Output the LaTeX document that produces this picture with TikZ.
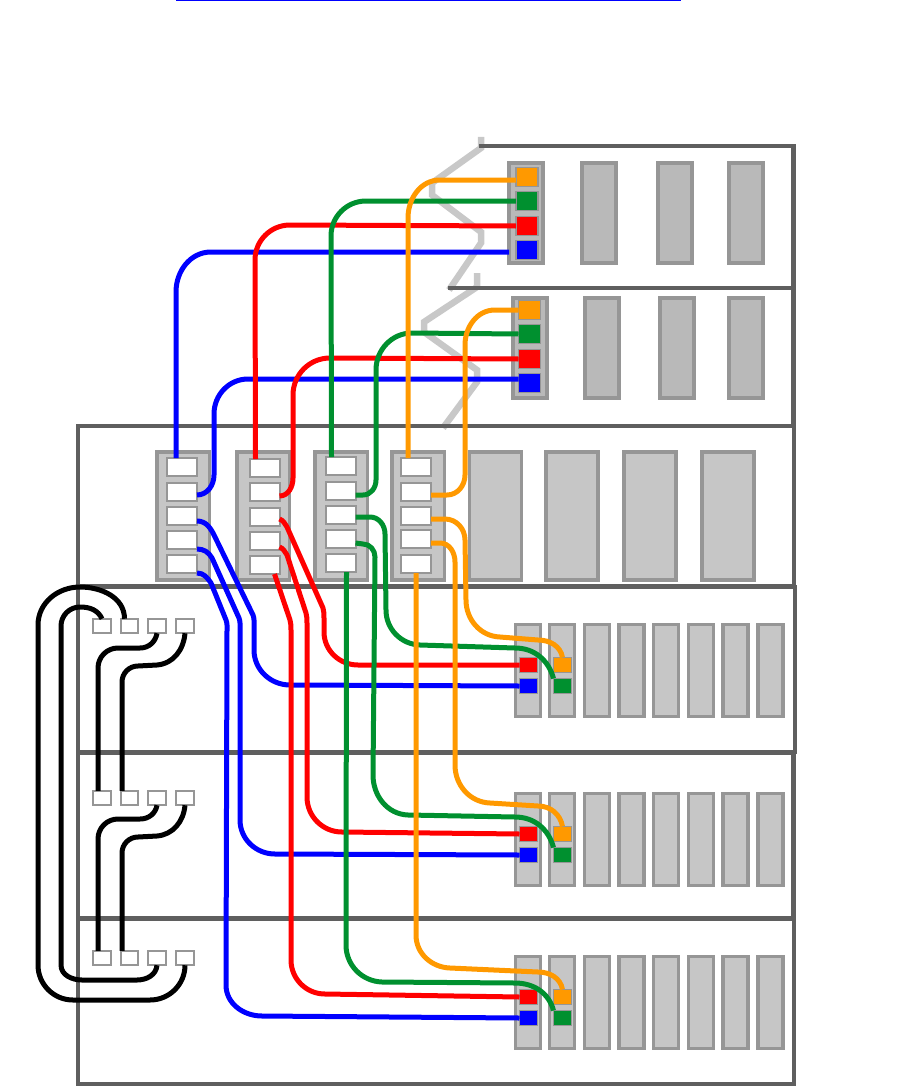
\documentclass[tikz,border=0pt]{standalone}
\usetikzlibrary{calc}
\definecolor{framec}{HTML}{5F5F5F}
\definecolor{modb}{HTML}{969696}
\definecolor{modfa}{HTML}{B9B9B9}
\definecolor{modfb}{HTML}{C6C6C6}
\definecolor{zig}{HTML}{C8C8C8}
\definecolor{wblue}{HTML}{0000FF}
\definecolor{wred}{HTML}{FF0000}
\definecolor{wgreen}{HTML}{00902F}
\definecolor{worange}{HTML}{FF9900}
\tikzset{
  frameline/.style={draw=framec,line width=4.6pt,line cap=butt},
  zigline/.style={draw=zig,line width=6.5pt,line join=miter},
  modbox/.style 2 args={rectangle,draw=modb,line width=3.5pt,outer sep=0pt,inner sep=0pt,fill=#1,minimum width=#2},
  porta/.style={rectangle,draw=modb,line width=2pt,outer sep=0pt,inner sep=0pt,fill=white,minimum width=30pt,minimum height=18pt},
  portb/.style={rectangle,draw=modb,line width=1.8pt,outer sep=0pt,inner sep=0pt,fill=white,minimum width=17.5pt,minimum height=14.5pt},
  portc/.style={rectangle,draw=modb,line width=1.8pt,outer sep=0pt,inner sep=0pt,fill=#1,minimum width=22pt,minimum height=19pt},
  portd/.style={rectangle,draw=modb,line width=1.8pt,outer sep=0pt,inner sep=0pt,fill=#1,minimum width=18pt,minimum height=15pt},
  wire/.style={line width=5pt,line cap=butt,line join=round},
  wb/.style={wire,draw=wblue},
  wr/.style={wire,draw=wred},
  wg/.style={wire,draw=wgreen},
  wo/.style={wire,draw=worange},
  cable/.style={wire,draw=black},
}
\begin{document}
\begin{tikzpicture}[x=1pt,y=-1pt]
\useasboundingbox (0,0) rectangle (922,1089);
\fill[wblue] (176,0) rectangle (681,1.5);
% zigzags
\draw[zigline] (481,137) -- (481,148) -- (432,183) -- (432,195) -- (481,232) -- (481,243) -- (449,290);
\draw[zigline] (477,273) -- (477,287) -- (424,322) -- (424,332) -- (477,370) -- (477,382) -- (443,428);
% frames
\draw[frameline] (479,146) -- (793.5,146);
\draw[frameline] (793.5,144) -- (793.5,426);
\draw[frameline] (448,288) -- (793,288);
\draw[frameline] (78,426) -- (794,426);
\draw[frameline] (794,426) -- (794,586);
\draw[frameline] (78,424) -- (78,1086);
\draw[frameline] (78,1084) -- (795,1084);
\draw[frameline] (78,586.5) -- (795,586.5);
\draw[frameline] (795,585) -- (795,754);
\draw[frameline] (78,752.5) -- (795,752.5);
\draw[frameline] (793.5,752) -- (793.5,918);
\draw[frameline] (78,918.5) -- (795,918.5);
\draw[frameline] (794,918) -- (794,1086);
% rack 1 modules
\foreach \n/\xa in {a/526,b/599,c/675,d/746}
  \node[modbox={modfa}{34pt},minimum height=100pt] (ra\n) at (\xa,213) {};
\foreach \n/\xa in {a/530,b/602,c/677,d/746}
  \node[modbox={modfa}{34pt},minimum height=100pt] (rb\n) at (\xa,348) {};
% rack 3 modules
\foreach \n/\xa in {a/183,b/263,c/341,d/418}
  \node[modbox={modfb}{52.5pt},minimum height=128pt] (rc\n) at (\xa,516) {};
\foreach \n/\xa in {e/495.5,f/572,g/650,h/728}
  \node[modbox={modfb}{52pt},minimum height=128pt] (rc\n) at (\xa,516) {};
% lower modules
\foreach \r/\yc in {d/670.5,e/839.5,f/1002.5}
  \foreach \n/\xa in {a/528,b/562,c/597,d/631.5,e/666,f/701,g/735.5,h/770.5}
    \node[modbox={modfb}{25pt},minimum height=92pt] (r\r\n) at (\xa,\yc) {};
% rack 1 ports
\foreach \n/\c/\ya in {o/worange/177,g/wgreen/201,r/wred/226,b/wblue/250}
  \node[portc=\c] (a\n) at (527,\ya) {};
\foreach \n/\c/\ya in {o/worange/310,g/wgreen/334,r/wred/359,b/wblue/383}
  \node[portc=\c] (b\n) at (529.5,\ya) {};
% rack 3 ports
\foreach \i/\ya in {1/467,2/492,3/516,4/540,5/564}
  \node[porta] (p\i) at (182,\ya) {};
\foreach \i/\ya in {1/468,2/492,3/517,4/541,5/565}
  \node[porta] (q\i) at (264.5,\ya) {};
\foreach \i/\ya in {1/466,2/491,3/515,4/539,5/563}
  \node[porta] (s\i) at (340.5,\ya) {};
\foreach \i/\ya in {1/467,2/492,3/516,4/539,5/564}
  \node[porta] (t\i) at (416,\ya) {};
% small white ports
\foreach \r/\ya in {d/626,e/798,f/958}
  \foreach \i/\xa in {1/102,2/129.5,3/157,4/185}
    \node[portb] (w\r\i) at (\xa,\ya) {};
% small coloured ports
\foreach \r/\ya/\yb in {d/665/686,e/834/855,f/997/1018}{
  \node[portd=wred] (\r r) at (528.5,\ya) {};
  \node[portd=wblue] (\r b) at (528.5,\yb) {};
  \node[portd=worange] (\r o) at (562.5,\ya) {};
  \node[portd=wgreen] (\r g) at (562.5,\yb) {};
}
% black cables
\draw[cable] (wd3.south) to[out=-100,in=0] (140,648) -- (118,648) to[out=180,in=90] (98,668) -- (we1.north -| 98,0);
\draw[cable] (wd4.south) to[out=-95,in=5] (157,665) -- (138,666) to[out=180,in=90] (122,682) -- (we2.north -| 122,0);
\draw[cable] (we3.south) to[out=-100,in=0] (140,819) -- (118,819) to[out=180,in=90] (98,839) -- (wf1.north -| 98,0);
\draw[cable] (we4.south) to[out=-95,in=5] (157,836) -- (138,837) to[out=180,in=90] (122,853) -- (wf2.north -| 122,0);
\draw[cable] (wd1.north) to[out=115,in=0] (80,607) to[out=180,in=90] (61,626) -- (61,965) to[out=-90,in=180] (82,980) -- (137,980) to[out=0,in=-95] (wf3.south);
\draw[cable] ([xshift=-5pt]wd2.north) to[out=90,in=0] (80,587) to[out=180,in=90] (38,625) -- (38,965) to[out=-90,in=180] (73,1000) -- (150,1000) to[out=0,in=-90] (wf4.south);
% upper wires
\draw[wb] ([xshift=-6pt]p1.north) -- (176,292) to[out=90,in=180] (211,252) -- ([yshift=-2pt]ab.west -| raa.west);
\draw[wb] ([yshift=-3pt]p2.east) to[out=0,in=-90] (214,475) -- (214,414) to[out=90,in=180] (248,379) -- ([yshift=4pt]bb.west);
\draw[wr] ([xshift=-9pt]q1.north) -- (255,260) to[out=90,in=180] (290,225) -- (ar.west);
\draw[wr] ([yshift=-4pt]q2.east) to[out=0,in=-90] (293,478) -- (293,395) to[out=90,in=180] (330,358) -- (br.west);
\draw[wg] ([xshift=-9pt]s1.north) -- (331,236) to[out=90,in=180] (366,201) -- (ag.west);
\draw[wg] ([yshift=-4pt]s2.east) -- (363,495) to[out=0,in=-90] (376,480) -- (376,370) to[out=90,in=180] (412,333) -- (bg.west);
\draw[wo] ([xshift=-8pt]t1.north) -- (408,218) to[out=90,in=180] (440,180) -- ([yshift=-3pt]ao.west);
\draw[wo] ([yshift=-3pt]t2.east) -- (447,495) to[out=0,in=-90] (465,475) -- (465,345) to[out=90,in=180] (495,310) -- (bo.west);
% lower blue
\draw[wb] ([yshift=-5pt]p3.east) to[out=0,in=115] (215,537) -- (253,615) to[out=-70,in=90] (254,625) -- (254,650) to[out=-90,in=180] (290,685) -- (db.west);
\draw[wb] (p4.south east) to[out=0,in=120] (212,558) -- (239,618) to[out=-70,in=90] (240,628) -- (240,820) to[out=-90,in=180] (275,854) -- (eb.west);
\draw[wb] (p5.south east) to[out=0,in=125] (211,583) -- (226,620) to[out=-70,in=90] (227,630) -- (226,985) to[out=-90,in=180] (262,1016) -- (fb.west);
% lower red
\draw[wr] ([yshift=-2pt]q3.east) to[out=-20,in=125] (287,527) -- (323,608) to[out=-75,in=90] (324,618) -- (324,632) to[out=-90,in=180] (358,665) -- (dr.west);
\draw[wr] ([yshift=-6pt]q4.east) to[out=-20,in=125] (287,555) -- (306,613) to[out=-75,in=90] (307,623) -- (307,797) to[out=-90,in=180] (342,832) -- (er.west);
\draw[wr] ([xshift=10pt]q5.south) -- (290,620) to[out=-75,in=90] (291,630) -- (291,960) to[out=-90,in=180] (325,994) -- (fr.west);
% lower green
\draw[wg] ([yshift=-2pt]s3.east) -- (370,517) to[out=0,in=90] (385,534) -- (386,610) to[out=-90,in=178] (420,645) -- (515,648) to[out=0,in=105] (dg.north west);
\draw[wg] ([yshift=-4pt]s4.east) -- (363,544) to[out=0,in=90] (375,557) -- (373,775) to[out=-90,in=178] (408,815) -- (515,817) to[out=0,in=105] (eg.north west);
\draw[wg] ([xshift=6pt]s5.south) -- (346,945) to[out=-90,in=178] (382,982) -- (515,983) to[out=0,in=105] (fg.north west);
% lower orange
\draw[wo] ([yshift=-3pt]t3.east) -- (445,519) to[out=0,in=90] (465,540) -- (466,600) to[out=-90,in=178] (500,637) -- (538,640) to[out=0,in=100] (do.north);
\draw[wo] ([yshift=-4pt]t4.east) -- (440,543) to[out=0,in=90] (455,562) -- (455,765) to[out=-90,in=178] (490,803) -- (538,806) to[out=0,in=100] (eo.north);
\draw[wo] (t5.south) -- (416,935) to[out=-90,in=178] (450,968) -- (538,972) to[out=0,in=100] (fo.north);
\end{tikzpicture}
\end{document}
